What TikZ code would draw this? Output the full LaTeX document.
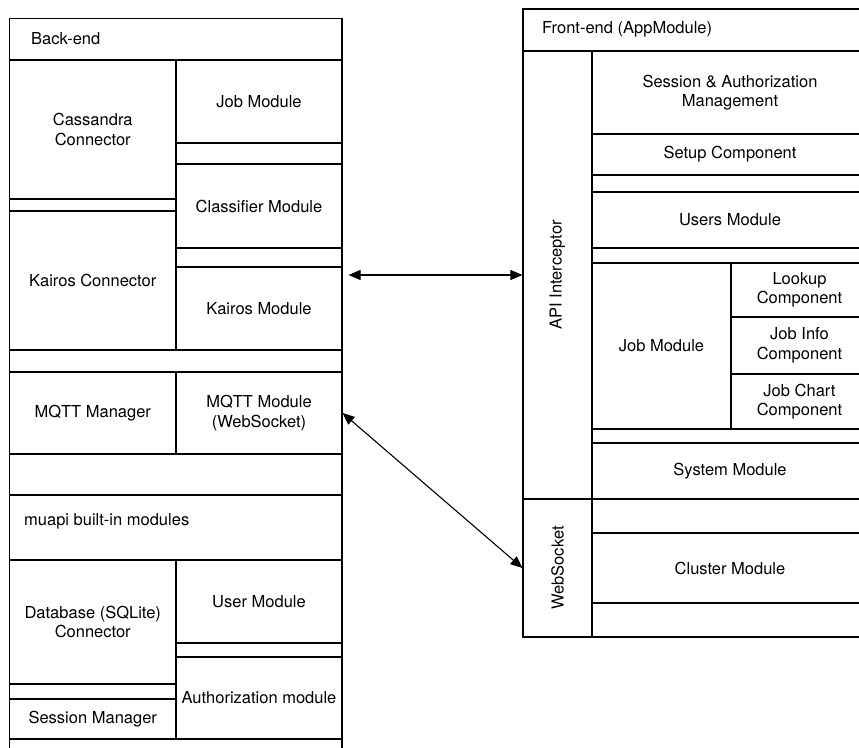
\documentclass[tikz,border=0pt]{standalone}
\usepackage{fontspec}
\setmainfont{TeX Gyre Heros}
\usetikzlibrary{fit,arrows.meta}
\begin{document}
\begin{tikzpicture}[x=1pt,y=-1pt,
  txt/.style={font=\fontsize{16.5}{19.5}\selectfont},
  box/.style={draw, line width=1.1pt, inner sep=0pt},
  cell/.style={box, label={[txt, align=center, inner sep=0pt]center:{#1}}},
  rcell/.style={box, label={[txt, rotate=90, inner sep=0pt]center:{#1}}},
  hdr/.style={anchor=west, inner sep=0pt, txt},
  conn/.style={line width=1.1pt,
    {Triangle[length=12pt,width=10pt]}-{Triangle[length=12pt,width=10pt]}}]
\useasboundingbox (0,0) rectangle (859,747);
\clip (0,0) rectangle (859,747);

% ---------------- Back-end ----------------
\node[box, fit={(9.5,18.5) (342,790)}] (backend) {};
\node[box, fit={(9.5,18.5) (342,60)}] (behdr) {};
\node[hdr] (betitle) at (31,39) {Back-end};

\node[cell={Cassandra\\Connector}, fit={(9.5,60) (176,199)}] (cassandra) {};
\node[box, fit={(9.5,199) (176,211)}] (bs1) {};
\node[cell={Kairos Connector}, fit={(9.5,211) (176,350)}] (kairoscon) {};

\node[cell={Job Module}, fit={(176,60) (342,143)}] (jobmod) {};
\node[box, fit={(176,143) (342,164)}] (bs2) {};
\node[cell={Classifier Module}, fit={(176,164) (342,248)}] (classmod) {};
\node[box, fit={(176,248) (342,267)}] (bs3) {};
\node[cell={Kairos Module}, fit={(176,267) (342,350)}] (kairosmod) {};

\node[box, fit={(9.5,350) (342,372)}] (bs4) {};
\node[cell={MQTT Manager}, fit={(9.5,372) (176,454)}] (mqttmgr) {};
\node[cell={MQTT Module\\(WebSocket)}, fit={(176,372) (342,454)}] (mqttmod) {};

\coordinate (dashL) at (9.5,495);
\coordinate (dashR) at (342,495);
\draw[line width=1.1pt, dash pattern=on 4pt off 3.5pt] (dashL) -- (dashR);
\node[box, fit={(9.5,495) (342,560)}] (muapi) {};
\node[hdr] (mutitle) at (24,521) {muapi built-in modules};

\node[cell={Database (SQLite)\\Connector}, fit={(9.5,560) (176,684)}] (dbcon) {};
\node[box, fit={(9.5,684) (176,699)}] (bs5) {};
\node[cell={Session Manager}, fit={(9.5,699) (176,739)}] (sessmgr) {};
\node[cell={User Module}, fit={(176,560) (342,643)}] (usermod) {};
\node[box, fit={(176,643) (342,657)}] (bs6) {};
\node[cell={Authorization module}, fit={(176,657) (342,739)}] (authmod) {};

% ---------------- Front-end ----------------
\node[box, fit={(523,9) (868,637)}] (frontend) {};
\node[box, fit={(523,9) (868,51)}] (fehdr) {};
\node[hdr] (fetitle) at (542,29) {Front-end (AppModule)};

\node[rcell={API Interceptor}, fit={(523,51) (592,499)}] (api) {};
\node[rcell={WebSocket}, fit={(523,499) (592,637)}] (ws) {};

\node[cell={Session \& Authorization\\Management}, fit={(592,51) (868,134)}] (sessauth) {};
\node[cell={Setup Component}, fit={(592,134) (868,175)}] (setup) {};
\node[box, fit={(592,175) (868,192)}] (fs1) {};
\node[cell={Users Module}, fit={(592,192) (868,248)}] (users) {};
\node[box, fit={(592,248) (868,263)}] (fs2) {};
\node[cell={Job Module}, fit={(592,263) (731,429)}] (fjob) {};
\node[cell={Lookup\\Component}, fit={(731,263) (868,317)}] (lookup) {};
\node[cell={Job Info\\Component}, fit={(731,317) (868,374)}] (jobinfo) {};
\node[cell={Job Chart\\Component}, fit={(731,374) (868,429)}] (jobchart) {};
\node[box, fit={(592,429) (868,443)}] (fs3) {};
\node[cell={System Module}, fit={(592,443) (868,499)}] (system) {};

\node[box, fit={(592,499) (868,533)}] (fs4) {};
\node[cell={Cluster Module}, fit={(592,533) (868,603)}] (cluster) {};
\node[box, fit={(592,603) (868,637)}] (fs5) {};

% ---------------- Connectors ----------------
\draw[conn, shorten <=6pt] (kairosmod.east |- api.west) -- (api.west);
\draw[conn] (mqttmod.east) -- (ws.west);
\end{tikzpicture}
\end{document}
